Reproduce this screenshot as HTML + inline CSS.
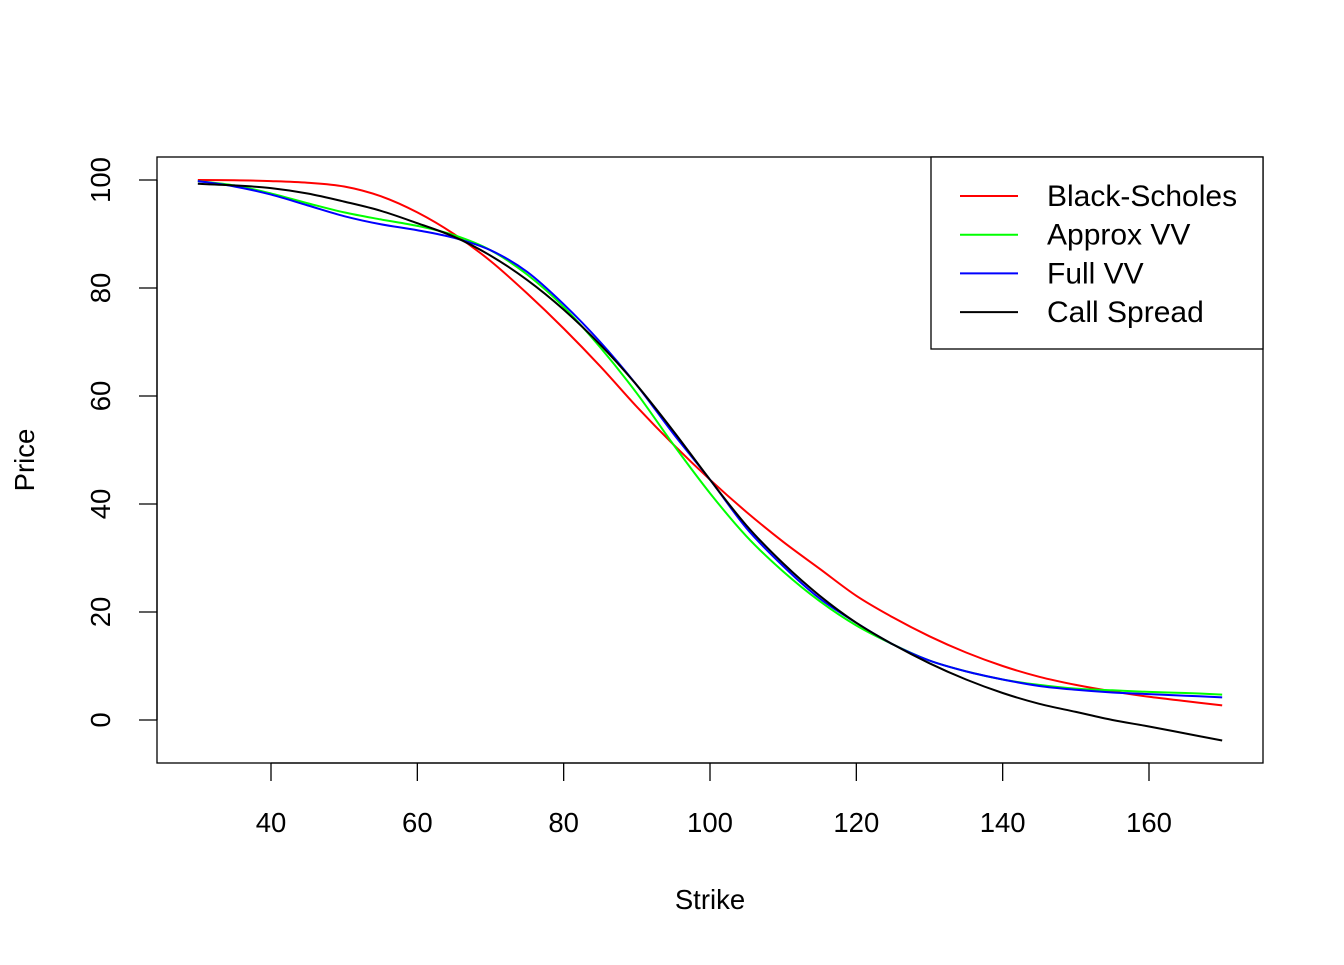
<!DOCTYPE html>
<html><head><meta charset="utf-8"><style>
body{margin:0;background:#fff}
svg text{font-family:"Liberation Sans",Arial,sans-serif;fill:#000}
</style></head><body>
<svg id="chart" width="1344" height="960">
<rect width="1344" height="960" fill="#fff"/>
<g id="plot"></g>
</svg>
<script>
const strikes=[30,35,40,45,50,55,60,65,70,75,80,85,90,95,100,105,110,115,120,125,130,135,140,145,150,155,160,165,170];
const blackScholes=[100,99.95,99.8,99.5,98.8,97,94,90,85,79,72.5,65.5,58,51,44.5,38.5,33,28,23,19,15.5,12.5,10,8,6.5,5.3,4.3,3.5,2.7];
const approxVV=[99.8,99,97.5,95.7,94,92.7,91.5,89.8,87,82.5,76.5,69,60.5,51,42,34,27.5,22,17.5,14,11,9,7.5,6.5,5.8,5.5,5.2,5,4.7];
const fullVV=[99.8,98.8,97.3,95.3,93.3,91.8,90.7,89.3,87,83,77,70,62,53,44.5,35.5,28.5,22.5,18,14,11,9,7.5,6.3,5.6,5.1,4.8,4.5,4.2];
const callSpread=[99.3,99,98.5,97.5,96,94.3,92,89.5,86,81.5,76,69.5,62,53.5,44.5,36,29,23,18,14,10.5,7.5,5,3,1.5,0,-1.2,-2.5,-3.8];
const xTicks=[40,60,80,100,120,140,160];
const yTicks=[0,20,40,60,80,100];
const seriesNames=["Black-Scholes","Approx VV","Full VV","Call Spread"];
const seriesColors=["#ff0000","#00ff00","#0000ff","#000000"];

const NS="http://www.w3.org/2000/svg";
const g=document.getElementById('plot');
const sx=v=>271+(v-40)*(1149-271)/120;
const sy=v=>720-v*5.4;
function mk(t,a,txt){const e=document.createElementNS(NS,t);for(const k in a)e.setAttribute(k,a[k]);if(txt!==undefined)e.textContent=txt;g.appendChild(e);return e;}
function smooth(pts){
  let d='M'+pts[0][0]+','+pts[0][1];
  for(let i=0;i<pts.length-1;i++){
    const p0=pts[Math.max(0,i-1)],p1=pts[i],p2=pts[i+1],p3=pts[Math.min(pts.length-1,i+2)];
    const c1x=p1[0]+(p2[0]-p0[0])/6,c1y=p1[1]+(p2[1]-p0[1])/6;
    const c2x=p2[0]-(p3[0]-p1[0])/6,c2y=p2[1]-(p3[1]-p1[1])/6;
    d+=` C${c1x},${c1y} ${c2x},${c2y} ${p2[0]},${p2[1]}`;
  }
  return d;
}

let e=mk('rect',{x:157,y:157,width:1106,height:606,fill:'none',stroke:'#000','stroke-width':1.3});



xTicks.forEach(t=>{
  let l=mk('line',{x1:sx(t),x2:sx(t),y1:763,y2:781,stroke:'#000','stroke-width':1.3});
  
  
  let tx=mk('text',{x:sx(t),y:832,'text-anchor':'middle','font-size':27.5},t);
  
  
});
e=mk('line',{x1:sx(40),x2:sx(160),y1:763,y2:763,stroke:'#000','stroke-width':1.3});


yTicks.forEach(t=>{
  let l=mk('line',{x1:139,x2:157,y1:sy(t),y2:sy(t),stroke:'#000','stroke-width':1.3});
  
  
  let tx=mk('text',{x:0,y:0,'text-anchor':'middle','font-size':27.5,transform:`translate(110,${sy(t)}) rotate(-90)`},t);
  
  
});
e=mk('line',{x1:157,x2:157,y1:sy(0),y2:sy(100),stroke:'#000','stroke-width':1.3});


e=mk('text',{x:710,y:909,'text-anchor':'middle','font-size':27.5},'Strike');


e=mk('text',{x:0,y:0,'text-anchor':'middle','font-size':27.5,transform:'translate(34,460) rotate(-90)'},'Price');



const allSeries=[blackScholes,approxVV,fullVV,callSpread];
const names=['black-scholes-line','approx-vv-line','full-vv-line','call-spread-line'];
allSeries.forEach((s,i)=>{
  let p=mk('path',{d:smooth(s.map((v,j)=>[sx(strikes[j]),sy(v)])),fill:'none',stroke:seriesColors[i],'stroke-width':2,'stroke-linejoin':'round'});
  
  
});

e=mk('rect',{x:931,y:157,width:332,height:192,fill:'#fff',stroke:'#000','stroke-width':1.3});


seriesNames.forEach((n,i)=>{
  const y=196+i*38.7;
  let l=mk('line',{x1:960,x2:1018,y1:y,y2:y,stroke:seriesColors[i],'stroke-width':2});
  
  
  let t=mk('text',{x:1047,y:y+10,'font-size':30},n);
  
  
});
</script>
</body></html>
